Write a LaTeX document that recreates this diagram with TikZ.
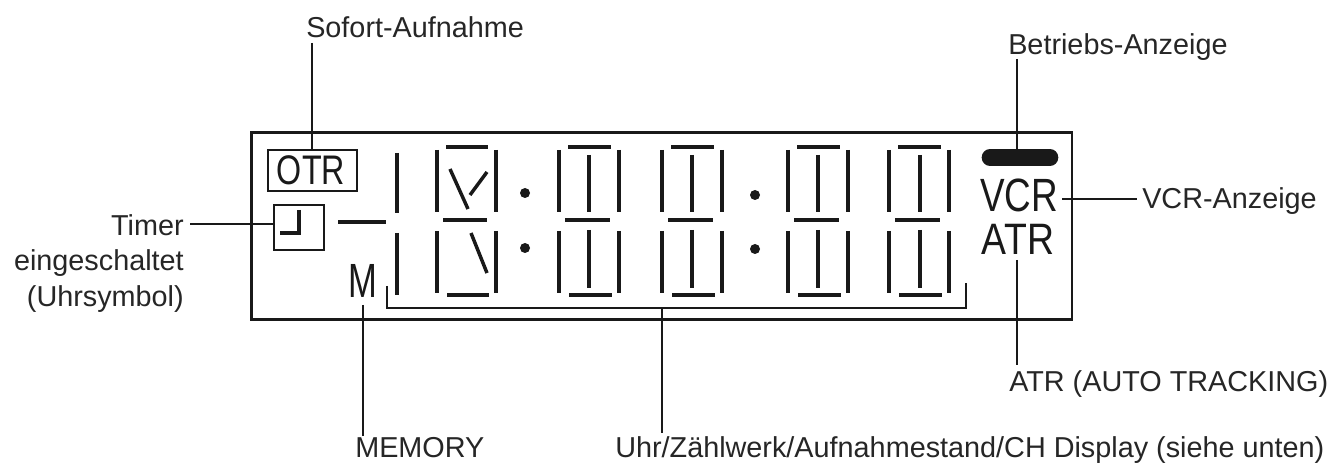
\documentclass[tikz,border=0pt]{standalone}
\usepackage{fontspec}
\setmainfont{Liberation Sans}
\tikzset{
  x=0.75pt,y=-0.75pt,
  frame/.style={draw=black!90,line width=1.9pt},
  thinbox/.style={draw=black!90,line width=1.4pt,inner sep=0pt},
  conn/.style={draw=black!90,line width=1.1pt},
  seg/.style={draw=black!90,line width=2.9pt},
  segd/.style={draw=black!90,line width=2.6pt},
  lab/.style={inner sep=0pt,font=\fontsize{21.6pt}{24pt}\selectfont,text=black!85},
  disp/.style={inner sep=0pt,text=black!90},
  dotmark/.style={circle,fill=black!90,draw=none,minimum size=7.5pt,inner sep=0pt}
}
\newcommand{\digitat}[4]{%
  \draw[seg] (#1,150) -- (#1,212);
  \draw[seg] (#3,150) -- (#3,212);
  \draw[seg] (#1,231) -- (#1,293);
  \draw[seg] (#3,231) -- (#3,293);
  \draw[seg] (#1+9,147) -- (#3-8,147);
  \draw[seg] (#1+6,220) -- (#3-9,220);
  \draw[seg] (#1+10,295) -- (#3-7,295);
  #4
}
\newcommand{\midbars}[1]{%
  \draw[segd] (#1,155) -- (#1,212);
  \draw[segd] (#1,230) -- (#1,288);
}
\begin{document}
\begin{tikzpicture}
\useasboundingbox (0,0) rectangle (1332,463);
\fill[white] (0,0) rectangle (1332,463);
% frame
\node[frame,minimum width=615.5pt,minimum height=140.5pt,inner sep=0pt,anchor=north west] (lcd) at (250,131) {};
% OTR
\node[thinbox,minimum width=66.75pt,minimum height=30.75pt,anchor=north west] (otrbox) at (267,149) {};
\node[disp] (otrtext) at (311,170) {\scalebox{0.78}[1]{\fontsize{31pt}{31pt}\selectfont OTR}};
% clock
\node[thinbox,minimum width=37.5pt,minimum height=33.75pt,anchor=north west] (clockbox) at (273,204) {};
\draw[segd] (299,210) -- (299,233) -- (280,233);
\draw[seg] (338,222) -- (386,222);
% first column
\draw[seg] (397,153) -- (397,213);
\draw[seg] (397,233) -- (397,295);
% M
\node[disp] (mtext) at (363,280.5) {\scalebox{0.72}[1]{\fontsize{36pt}{36pt}\selectfont M}};
% digits
\digitat{437}{466}{496}{%
  \draw[segd] (450,169) -- (468,209);
  \draw[segd] (487,172) -- (470,195);
  \draw[segd] (471,233) -- (487,273);
}
\digitat{559}{589}{619}{\midbars{589}}
\digitat{662}{692}{722}{\midbars{692}}
\digitat{788}{818}{848}{\midbars{818}}
\digitat{889}{920}{949}{\midbars{920}}
% dots
\node[dotmark] (d1) at (525,193) {};
\node[dotmark] (d2) at (525,248) {};
\node[dotmark] (d3) at (755,195) {};
\node[dotmark] (d4) at (755,249) {};
% bracket
\coordinate (brl) at (387,286);
\coordinate (brr) at (966,283);
\coordinate (brm) at (662,308);
\draw[conn,line width=1.3pt] (brl) |- (brm) -| (brr);
% right indicators
\draw[black!90,line width=12.5pt,line cap=round] (990,157.5) -- (1050,157.5);
\coordinate (pilltop) at (1017,150);
\node[disp] (vcr) at (1019,195) {\scalebox{0.79}[1]{\fontsize{35pt}{35pt}\selectfont VCR}};
\node[disp] (atr) at (1018,239) {\scalebox{0.85}[1]{\fontsize{33pt}{33pt}\selectfont ATR}};
% labels
\node[lab,anchor=base west] (sofort) at (306,38) {Sofort-Aufnahme};
\node[lab,anchor=base west] (betrieb) at (1008,55) {Betriebs-Anzeige};
\node[lab,anchor=base west] (vcrl) at (1142,209) {VCR-Anzeige};
\node[lab,anchor=base east] (timer) at (184,236) {Timer};
\node[lab,anchor=base east] (ein) at (184,271) {eingeschaltet};
\node[lab,anchor=base east] (uhr) at (184,307) {(Uhrsymbol)};
\node[lab,anchor=base west] (atrl) at (1009,392) {ATR (AUTO TRACKING)};
\node[lab,anchor=base west] (mem) at (355,457) {MEMORY};
\node[lab,anchor=base west] (uhrl) at (615,457) {Uhr/Zählwerk/Aufnahmestand/CH Display (siehe unten)};
% connectors
\coordinate (a1) at (312,43);
\coordinate (a2) at (312,149);
\draw[conn] (a1) -- (a2);
\coordinate (b1) at (1017,59);
\draw[conn] (b1) -- (pilltop);
\coordinate (c1) at (1062,199);
\coordinate (c2) at (1137,199);
\draw[conn] (c1) -- (c2);
\coordinate (t1) at (190,224);
\draw[conn] (t1) -- (clockbox.west |- t1);
\coordinate (e1) at (1017,260);
\coordinate (e2) at (1017,365);
\draw[conn] (e1) -- (e2);
\coordinate (m1) at (363,305);
\coordinate (m2) at (363,436);
\draw[conn] (m1) -- (m2);
\coordinate (u1) at (662,433);
\draw[conn] (brm) -- (u1);
\end{tikzpicture}
\end{document}
